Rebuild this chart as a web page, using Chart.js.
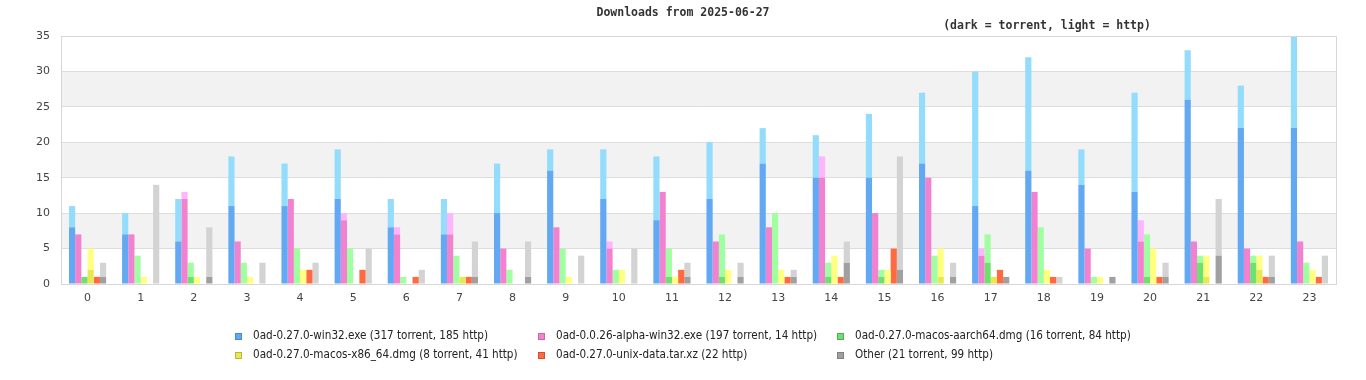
<!DOCTYPE html>
<html><head><meta charset="utf-8">
<script src="https://cdn.jsdelivr.net/npm/chart.js@4/dist/chart.umd.min.js"></script>
<style>html,body{margin:0;padding:0;background:#fff;}</style>
</head><body>
<canvas id="c" width="1366" height="380"></canvas>
<script>
const categories = ['0','1','2','3','4','5','6','7','8','9','10','11','12','13','14','15','16','17','18','19','20','21','22','23'];
const yTicks = [0,5,10,15,20,25,30,35];
const titleText = 'Downloads from 2025-06-27';
const subtitleText = '(dark = torrent, light = http)';

const names = ['0ad-0.27.0-win32.exe','0ad-0.0.26-alpha-win32.exe','0ad-0.27.0-macos-aarch64.dmg','0ad-0.27.0-macos-x86_64.dmg','0ad-0.27.0-unix-data.tar.xz','Other'];

const win32Torrent   = [8,7,6,11,11,12,8,7,10,16,12,9,12,17,15,15,17,11,16,14,13,26,22,22];
const win32Http      = [3,3,6,7,6,7,4,5,7,3,7,9,8,5,6,9,10,19,16,5,14,7,6,13];
const alphaTorrent   = [7,7,12,6,12,9,7,7,5,8,5,13,6,8,15,10,15,4,13,5,6,6,5,6];
const alphaHttp      = [0,0,1,0,0,1,1,3,0,0,1,0,0,0,3,0,0,1,0,0,3,0,0,0];
const aarchTorrent   = [1,0,1,0,0,0,0,0,0,0,0,1,1,0,1,1,0,3,0,0,1,3,3,0];
const aarchHttp      = [0,4,2,3,5,5,1,4,2,5,2,4,6,10,2,1,4,4,8,1,6,1,1,3];
const x86Torrent     = [2,0,0,0,0,0,0,1,0,0,0,0,0,0,0,0,1,1,0,0,0,1,2,0];
const x86Http        = [3,1,1,1,2,0,0,0,0,1,2,1,2,2,4,2,4,0,2,1,5,3,2,2];
const unixTorrent    = [0,0,0,0,0,0,0,0,0,0,0,0,0,0,0,0,0,0,0,0,0,0,0,0];
const unixHttp       = [1,0,0,0,2,2,1,1,0,0,0,2,0,1,1,5,0,2,1,0,1,0,1,1];
const otherTorrent   = [1,0,1,0,0,0,0,1,1,0,0,1,1,1,3,2,1,1,0,1,1,4,1,0];
const otherHttp      = [2,14,7,3,3,5,2,5,5,4,5,2,2,1,3,16,2,0,1,0,2,8,3,4];

const torrentSeries = [win32Torrent, alphaTorrent, aarchTorrent, x86Torrent, unixTorrent, otherTorrent];
const httpSeries    = [win32Http, alphaHttp, aarchHttp, x86Http, unixHttp, otherHttp];

const darkColors  = ['#62a8f2','#f282d0','#6ee06e','#e8e850','#ff6a40','#a0a0a0'];
const lightColors = ['#94dcfc','#ffb4fe','#a0ffa0','#ffff80','#ff6a40','#d3d3d3'];
const legendBorder = ['#4a86c8','#c868ac','#50b050','#b8b838','#d05030','#808080'];

const sum = a => a.reduce((p, v) => p + v, 0);

const datasets = [];
names.forEach((n, i) => {
  datasets.push({label: n + ' torrent', data: torrentSeries[i], backgroundColor: darkColors[i], stack: 's' + i, borderWidth: 0});
  datasets.push({label: n + ' http', data: httpSeries[i], backgroundColor: lightColors[i], stack: 's' + i, borderWidth: 0});
});

const legendLabels = names.map((n, i) => {
  const t = sum(torrentSeries[i]), h = sum(httpSeries[i]);
  const parts = [];
  if (t) parts.push(t + ' torrent');
  if (h) parts.push(h + ' http');
  return n + ' (' + parts.join(', ') + ')';
});

const decor = {
  id: 'decor',
  beforeDraw(chart) {
    const {ctx, chartArea: a, scales: {y}} = chart;
    ctx.save();
    ctx.fillStyle = '#f2f2f2';
    [[5,10],[15,20],[25,30]].forEach(([lo, hi]) => {
      const t = y.getPixelForValue(hi), b = y.getPixelForValue(lo);
      ctx.fillRect(a.left, t, a.right - a.left, b - t);
    });
    ctx.restore();
  },
  afterDraw(chart) {
    const {ctx, chartArea: a} = chart;
    ctx.save();
    ctx.strokeStyle = '#d6d6d6';
    ctx.lineWidth = 1;
    ctx.beginPath();
    ctx.moveTo(Math.round(a.left) + 0.5, Math.round(a.bottom));
    ctx.lineTo(Math.round(a.left) + 0.5, Math.round(a.top) + 0.5);
    ctx.lineTo(Math.round(a.right) + 0.5, Math.round(a.top) + 0.5);
    ctx.lineTo(Math.round(a.right) + 0.5, Math.round(a.bottom));
    ctx.stroke();
    // titles
    ctx.fillStyle = '#333';
    ctx.font = 'bold 11.5px "DejaVu Sans Mono", monospace';
    ctx.textBaseline = 'middle';
    ctx.textAlign = 'center';
    ctx.fillText(titleText, 683, 13);
    ctx.fillText(subtitleText, 1047, 26);
    // legend
    const colX = [235, 538, 837];
    const rowY = [335.5, 355];
    ctx.font = '11.6px "DejaVu Sans Condensed", "Liberation Sans Narrow", sans-serif';
    ctx.textAlign = 'left';
    legendLabels.forEach((lab, i) => {
      const x = colX[i % 3], yy = rowY[Math.floor(i / 3)];
      const by = Math.round(yy) - 3;
      ctx.fillStyle = darkColors[i];
      ctx.fillRect(x, by, 6, 6);
      ctx.strokeStyle = legendBorder[i];
      ctx.strokeRect(x + 0.5, by + 0.5, 6, 6);
      ctx.fillStyle = '#222';
      ctx.fillText(lab, x + 18, yy);
    });
    ctx.restore();
  }
};

new Chart(document.getElementById('c'), {
  type: 'bar',
  data: {labels: categories, datasets},
  options: {
    responsive: false,
    animation: false,
    layout: {padding: {top: 36, right: 30, left: 0, bottom: 0}},
    plugins: {legend: {display: false}, title: {display: false}, tooltip: {enabled: false}},
    datasets: {bar: {barPercentage: 1.0, categoryPercentage: 0.7}},
    scales: {
      x: {
        stacked: true,
        grid: {display: false, drawTicks: false},
        border: {display: true, color: '#d6d6d6'},
        ticks: {color: '#444', font: {family: '"DejaVu Sans", sans-serif', size: 11}, padding: 8, maxRotation: 0},
        afterFit(s) { s.height = 96; }
      },
      y: {
        stacked: true,
        min: 0, max: 35,
        afterBuildTicks(s) { s.ticks = yTicks.map(v => ({value: v})); },
        grid: {color: '#dddddd', drawTicks: false},
        border: {display: false},
        ticks: {color: '#444', font: {family: '"DejaVu Sans", sans-serif', size: 11}, padding: 11},
        afterFit(s) { s.width = 61; }
      }
    }
  },
  plugins: [decor]
});
</script>
</body></html>
